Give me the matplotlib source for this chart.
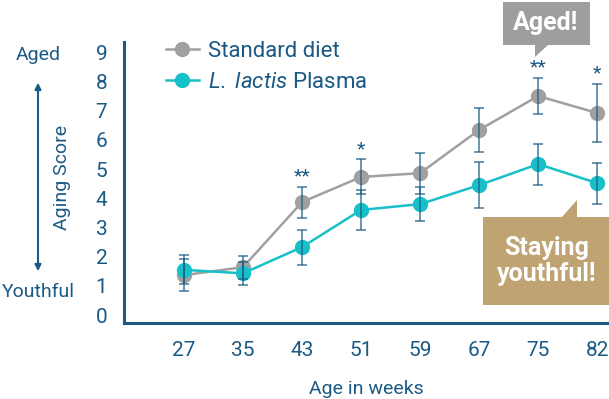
import matplotlib.pyplot as plt
from matplotlib.patches import Polygon, FancyArrowPatch

plt.rcParams['font.family'] = ['Roboto', 'DejaVu Sans']
plt.rcParams['mathtext.fontset'] = 'custom'
plt.rcParams['mathtext.it'] = 'Roboto:italic'
plt.rcParams['mathtext.rm'] = 'Roboto'

# data
weeks = ["27", "35", "43", "51", "59", "67", "75", "82"]
standard = [1.37, 1.64, 3.87, 4.73, 4.86, 6.34, 7.50, 6.92]
standard_err = [0.55, 0.40, 0.53, 0.60, 0.70, 0.75, 0.62, 1.00]
lactis = [1.55, 1.43, 2.33, 3.60, 3.80, 4.45, 5.17, 4.52]
lactis_err = [0.50, 0.40, 0.60, 0.70, 0.58, 0.80, 0.70, 0.70]
stars = ["", "", "**", "*", "", "", "**", "*"]

navy = '#1b5a84'
grey = '#a0a0a0'
cyan = '#17c0c9'

fig = plt.figure(figsize=(6.09, 3.99), dpi=100)
ax = fig.add_axes([124 / 609, 1 - 323 / 399, 1 - 124 / 609, (323 - 42) / 399])

x = list(range(len(weeks)))
ax.plot(x, standard, color=grey, lw=1.8, marker='o', ms=10, label='Standard diet', zorder=2)
ax.plot(x, lactis, color=cyan, lw=1.8, marker='o', ms=10,
        label=r'$\mathit{L.}$ $\mathit{lactis}$ Plasma', zorder=3)
ax.errorbar(x, standard, yerr=standard_err, fmt='none', ecolor=navy, elinewidth=1.2,
            capsize=3.5, capthick=1.2, alpha=0.75, zorder=4)
ax.errorbar(x, lactis, yerr=lactis_err, fmt='none', ecolor=navy, elinewidth=1.2,
            capsize=3.5, capthick=1.2, alpha=0.75, zorder=4)

for i, s in enumerate(stars):
    if s:
        top = max(standard[i] + standard_err[i], lactis[i] + lactis_err[i])
        ax.text(i, top + 0.05, s, ha='center', va='bottom', color=navy, fontsize=14)

ax.set_xlim(-1.017, 7.2)
ax.set_ylim(-0.27, 9.35)
ax.set_xticks(x)
ax.set_xticklabels(weeks)
ax.set_yticks(range(10))
ax.tick_params(length=0, labelsize=15, colors=navy, pad=13)
ax.tick_params(axis='y', pad=12)
for side in ['top', 'right']:
    ax.spines[side].set_visible(False)
for side in ['left', 'bottom']:
    ax.spines[side].set_color(navy)
    ax.spines[side].set_linewidth(2.2)
ax.set_xlabel('Age in weeks', color=navy, fontsize=14, labelpad=14)

leg = ax.legend(loc='upper left', bbox_to_anchor=(0.045, 1.075), frameon=False,
                fontsize=16, handlelength=1.5, handletextpad=0.4, labelspacing=0.45)
for t in leg.get_texts():
    t.set_color(navy)

# left side annotation
def fx(px):
    return px / 609

def fy(py):
    return 1 - py / 399

fig.text(fx(38), fy(55), 'Aged', ha='center', va='center', color=navy, fontsize=14)
fig.text(fx(38), fy(292), 'Youthful', ha='center', va='center', color=navy, fontsize=14)
fig.text(fx(62), fy(177), 'Aging Score', ha='center', va='center', rotation=90,
         color=navy, fontsize=14)
fig.patches.append(FancyArrowPatch((fx(38), fy(80)), (fx(38), fy(274)), transform=fig.transFigure,
                                   arrowstyle='<|-|>', mutation_scale=9, color=navy, lw=1.5))

# callouts
aged = [(503, 2), (590, 2), (590, 45), (548, 45), (535, 57), (535, 45), (503, 45)]
fig.patches.append(Polygon([(fx(a), fy(b)) for a, b in aged], closed=True,
                           transform=fig.transFigure, facecolor='#9e9e9e', edgecolor='none'))
fig.text(fx(546), fy(23), 'Aged!', ha='center', va='center', color='white',
         fontsize=18, fontweight='bold')

young = [(483, 217), (562, 217), (577, 200), (577, 217), (609, 217), (609, 305), (483, 305)]
fig.patches.append(Polygon([(fx(a), fy(b)) for a, b in young], closed=True,
                           transform=fig.transFigure, facecolor='#bfa372', edgecolor='none'))
fig.text(fx(547), fy(261), 'Staying\nyouthful!', ha='center', va='center', color='white',
         fontsize=18, fontweight='bold', linespacing=1.1)

fig.savefig('out.png', dpi=100)
